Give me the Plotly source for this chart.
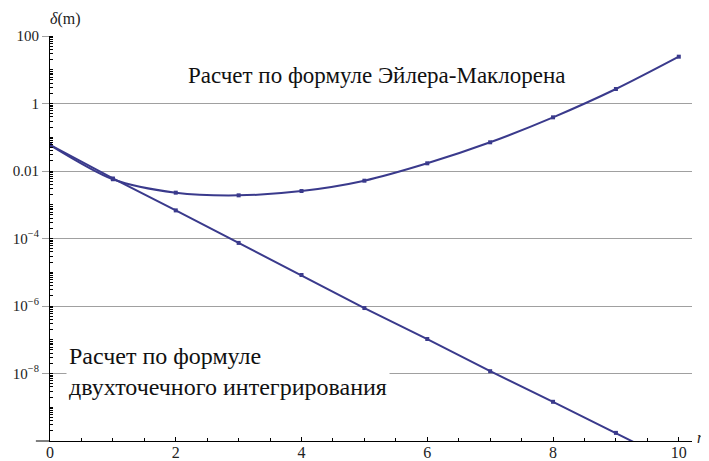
import plotly.graph_objects as go

# Data
n_values = [0, 1, 2, 3, 4, 5, 6, 7, 8, 9, 10]
delta_euler_maclaurin = [0.059, 0.0057, 0.00228, 0.0019, 0.00255, 0.00516, 0.0169, 0.0708, 0.389, 2.69, 24.4]
delta_two_point = [0.059, 0.0060, 6.8e-4, 7.4e-5, 8.3e-6, 8.7e-7, 1.05e-7, 1.17e-8, 1.45e-9, 1.74e-10, 2.0e-11]

y_tickvals = [100, 1, 0.01, 1e-4, 1e-6, 1e-8]
y_ticktext = ["100", "1", "0.01", "10<sup>−4</sup>", "10<sup>−6</sup>", "10<sup>−8</sup>"]
x_tickvals = [0, 2, 4, 6, 8, 10]

label_top = "Расчет по формуле Эйлера-Маклорена"
label_bottom_1 = "Расчет по формуле"
label_bottom_2 = "двухточечного интегрирования"

LINE = "#3a3a8c"
SERIF = "Liberation Serif"

fig = go.Figure()
fig.add_trace(go.Scatter(
    x=n_values, y=delta_euler_maclaurin, mode="lines+markers",
    line=dict(color=LINE, width=2, shape="spline", smoothing=0.8),
    marker=dict(symbol="square", size=4, color=LINE),
    showlegend=False, cliponaxis=True,
))
fig.add_trace(go.Scatter(
    x=n_values, y=delta_two_point, mode="lines+markers",
    line=dict(color=LINE, width=2),
    marker=dict(symbol="square", size=4, color=LINE),
    showlegend=False, cliponaxis=True,
))

fig.update_layout(
    width=701, height=453,
    margin=dict(l=42, r=17, t=28, b=20, autoexpand=False),
    paper_bgcolor="white", plot_bgcolor="white",
    font=dict(family=SERIF, size=15, color="#222"),
    xaxis=dict(
        range=[0, 10.21], tickvals=x_tickvals, ticks="inside", ticklen=4,
        tickcolor="black", showline=True, linecolor="black", linewidth=1,
        showgrid=False, zeroline=False, automargin=False, ticklabelstandoff=-3,
        minor=dict(ticks="inside", ticklen=3, dtick=0.5, tick0=0, tickcolor="black", showgrid=False),
        tickfont=dict(family=SERIF, size=16, color="#222"),
    ),
    yaxis=dict(
        type="log", range=[-10, 2], tickvals=y_tickvals, ticktext=y_ticktext,
        ticks="outside", ticklen=7, tickcolor="#a0a0a0",
        showline=True, linecolor="black", linewidth=1, automargin=False,
        showgrid=True, gridcolor="#a0a0a0", gridwidth=1, zeroline=False,
        minor=dict(ticks="inside", ticklen=3, dtick="D1", tickcolor="black", showgrid=False),
        tickfont=dict(family=SERIF, size=15, color="#222"),
    ),
)

# x-axis extension left of the origin
fig.add_shape(type="line", xref="paper", yref="paper", x0=-0.022, x1=0, y0=0, y1=0,
              line=dict(color="black", width=1))

fig.add_annotation(text="<i>δ</i>(m)", xref="paper", yref="paper", x=-0.003, y=1,
                   yanchor="bottom", yshift=6, showarrow=False,
                   font=dict(family=SERIF, size=16, color="#222"))
fig.add_annotation(text="<i>n</i>", xref="paper", yref="paper", x=1.004, y=0,
                   xanchor="left", yanchor="middle", yshift=4, showarrow=False,
                   font=dict(family=SERIF, size=16, color="#222"))

fig.add_annotation(text=label_top, x=5.2, y=0.84, showarrow=False,
                   font=dict(family=SERIF, size=23, color="#111"), bgcolor="white")
fig.add_annotation(text=label_bottom_1 + "<br>" + label_bottom_2, x=0.25, y=-7.94,
                   xanchor="left", align="left", showarrow=False,
                   font=dict(family=SERIF, size=24, color="#111"), bgcolor="white", borderpad=2)

fig.write_html("out.html")
